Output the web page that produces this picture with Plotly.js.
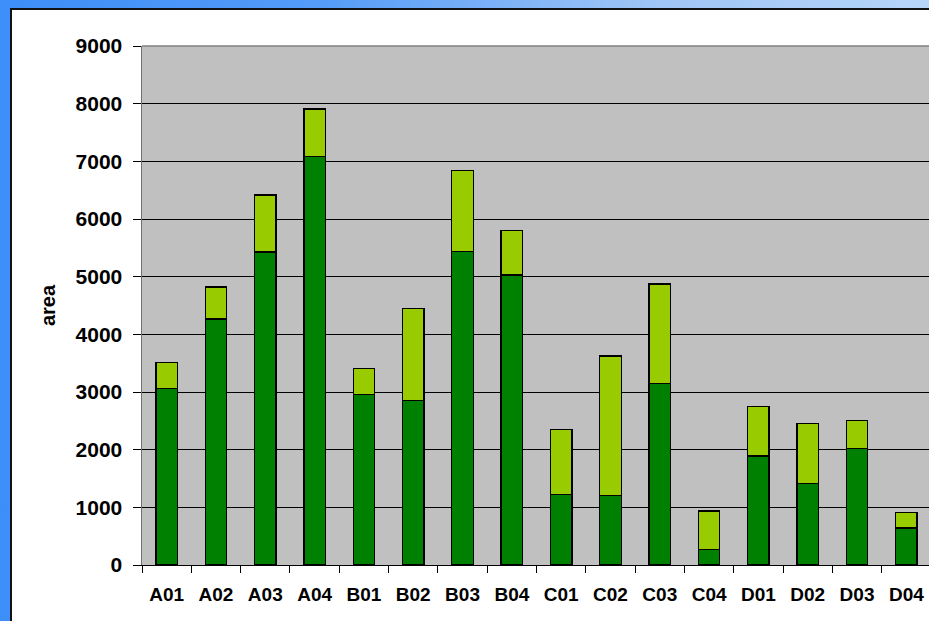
<!DOCTYPE html>
<html>
<head>
<meta charset="utf-8">
<script src="https://cdn.plot.ly/plotly-3.0.1.min.js"></script>
<style>
  html, body { margin:0; padding:0; width:929px; height:621px; overflow:hidden;
    background: linear-gradient(to right, #3d8ef8 0%, #559cf8 35%, #9fc5f6 70%, #b6d5f8 100%); }
  #frame { position:absolute; left:10px; top:8px; border-left:2px solid #111; border-top:2px solid #111; background:#fff; }
  #chart { width:919px; height:611px; }
</style>
</head>
<body>
<div id="frame"><div id="chart"></div></div>
<script>
const categories = ['A01','A02','A03','A04','B01','B02','B03','B04','C01','C02','C03','C04','D01','D02','D03','D04'];
const lowerValues = [3057, 4265, 5427, 7080, 2953, 2849, 5433, 5029, 1226, 1202, 3144, 272, 1890, 1410, 2024, 642];
const totalValues = [3515, 4820, 6416, 7907, 3411, 4445, 6844, 5804, 2346, 3624, 4873, 936, 2745, 2450, 2502, 907];
const upperValues = totalValues.map((t, i) => t - lowerValues[i]);
const yTicks = [0, 1000, 2000, 3000, 4000, 5000, 6000, 7000, 8000, 9000];

const fontFam = '"Liberation Sans", Arial, sans-serif';
const traces = [
  { type:'bar', x:categories, y:lowerValues, name:'lower',
    marker:{ color:'#008000', line:{ color:'#000', width:1.3 } }, hoverinfo:'y' },
  { type:'bar', x:categories, y:upperValues, name:'upper',
    marker:{ color:'#99cc00', line:{ color:'#000', width:1.3 } }, hoverinfo:'y' }
];
const layout = {
  barmode:'stack', bargap:0.565, showlegend:false,
  paper_bgcolor:'#ffffff', plot_bgcolor:'#c0c0c0',
  margin:{ l:130, r:0, t:36, b:56 },
  font:{ family:fontFam, color:'#000' },
  xaxis:{ type:'category', tickson:'boundaries', ticks:'outside', ticklen:7, tickcolor:'#000', tickwidth:1,
    showline:true, linecolor:'#000', linewidth:1, showgrid:false, automargin:false,
    tickfont:{ family:fontFam, size:19, weight:700, color:'#000' }, ticklabelstandoff:12 },
  yaxis:{ range:[0, 9000], tickvals:yTicks, ticktext:yTicks.map(String), ticks:'outside', ticklen:8,
    tickcolor:'#000', tickwidth:1, showline:true, linecolor:'#707070', linewidth:1.5,
    showgrid:true, gridcolor:'#000', gridwidth:1, zeroline:false, automargin:false,
    tickfont:{ family:fontFam, size:21, weight:700, color:'#000' }, ticklabelstandoff:6,
    title:{ text:'area', font:{ family:fontFam, size:20, weight:700, color:'#000' }, standoff:14 } },
  shapes:[ { type:'line', xref:'paper', yref:'paper', x0:0, x1:1, y0:1, y1:1, line:{ color:'#808080', width:1.5 } } ]
};
Plotly.newPlot('chart', traces, layout, { displayModeBar:false, staticPlot:true });
</script>
</body>
</html>
